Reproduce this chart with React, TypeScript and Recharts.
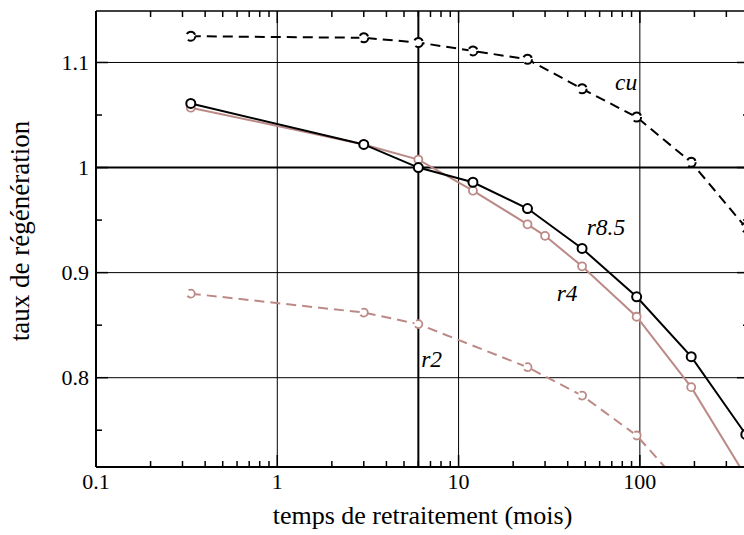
import {
  LineChart,
  Line,
  XAxis,
  YAxis,
  ReferenceLine,
  ReferenceDot,
} from "recharts";

// temps de retraitement (mois)
const months = [1 / 3, 3, 6, 12, 24, 30, 48, 96, 192, 384];
const cu = [1.125, 1.1235, 1.119, 1.111, 1.103, null, 1.075, 1.048, 1.005, 0.943];
const r85 = [1.061, 1.022, 1.0, 0.986, 0.961, null, 0.923, 0.877, 0.82, 0.746];
const r4 = [1.057, 1.022, 1.0076, 0.978, 0.946, 0.935, 0.906, 0.858, 0.791, 0.706];
const r2 = [0.88, 0.862, 0.851, null, 0.81, null, 0.783, 0.745, 0.687, null];

const xMajor = [0.1, 1, 10, 100];
const xTicks = [
  0.1, 0.2, 0.3, 0.4, 0.5, 0.6, 0.7, 0.8, 0.9,
  1, 2, 3, 4, 5, 6, 7, 8, 9,
  10, 20, 30, 40, 50, 60, 70, 80, 90,
  100, 200, 300, 400,
];
const yMajor = [0.8, 0.9, 1, 1.1];
const yTicks = [0.75, 0.8, 0.85, 0.9, 0.95, 1, 1.05, 1.1];

const seriesLabels = [
  { name: "cu", x: 84, y: 1.081 },
  { name: "r8.5", x: 65, y: 0.943 },
  { name: "r4", x: 39.7, y: 0.881 },
  { name: "r2", x: 7.1, y: 0.818 },
];

const data = months.map((m, i) => ({
  m,
  cu: cu[i],
  r85: r85[i],
  r4: r4[i],
  r2: r2[i],
}));

const FONT = "'Liberation Serif', 'Times New Roman', serif";
const PINK = "#BC8A86";

const isMajor = (list: number[], v: number) =>
  list.some((t) => Math.abs(t - v) < 1e-9);

const XTick = (props: any) => {
  const { x, y, payload, top } = props;
  const major = isMajor(xMajor, payload.value);
  const len = major ? 12 : 6;
  return (
    <g>
      <line x1={x} x2={x} y1={y} y2={top ? y + len : y - len} stroke="#000" strokeWidth={1.5} />
      {!top && major && (
        <text x={x} y={y + 14} textAnchor="middle" dominantBaseline="central" fontFamily={FONT} fontSize={22} fill="#000">
          {payload.value}
        </text>
      )}
    </g>
  );
};

const YTick = (props: any) => {
  const { x, y, payload, right } = props;
  const major = isMajor(yMajor, payload.value);
  const len = major ? 12 : 6;
  return (
    <g>
      <line x1={x} x2={right ? x - len : x + len} y1={y} y2={y} stroke="#000" strokeWidth={1.5} />
      {!right && major && (
        <text x={x - 7} y={y} textAnchor="end" dominantBaseline="central" fontFamily={FONT} fontSize={22} fill="#000">
          {payload.value}
        </text>
      )}
    </g>
  );
};

const SeriesLabel = (props: any) => {
  const { viewBox, value } = props;
  return (
    <text x={viewBox.x} y={viewBox.y} textAnchor="middle" dominantBaseline="central" fontFamily={FONT} fontStyle="italic" fontSize={23.5} fill="#000">
      {value}
    </text>
  );
};

export default function App() {
  return (
    <div
      style={{
        position: "fixed",
        left: 0,
        top: 0,
        width: 744,
        height: 535,
        overflow: "hidden",
        background: "#fff",
      }}
    >
      <LineChart
        width={770}
        height={535}
        data={data}
        margin={{ top: 10, right: 20, bottom: 0, left: 8 }}
      >
        <XAxis
          dataKey="m"
          type="number"
          scale="log"
          domain={[0.1, 400]}
          ticks={xTicks}
          interval={0}
          allowDataOverflow
          height={68}
          tickSize={0}
          tickMargin={0}
          tickLine={false}
          axisLine={{ stroke: "#000", strokeWidth: 2 }}
          tick={<XTick />}
          label={{
            content: (p: any) => (
              <text
                x={p.viewBox.x + p.viewBox.width / 2}
                y={515}
                textAnchor="middle"
                dominantBaseline="central"
                fontFamily={FONT}
                fontSize={26}
                fill="#000"
              >
                temps de retraitement (mois)
              </text>
            ),
          }}
        />
        <XAxis
          xAxisId="top"
          orientation="top"
          dataKey="m"
          type="number"
          scale="log"
          domain={[0.1, 400]}
          ticks={xTicks}
          interval={0}
          allowDataOverflow
          height={1}
          tickSize={0}
          tickMargin={0}
          tickLine={false}
          axisLine={{ stroke: "#000", strokeWidth: 1.5 }}
          tick={<XTick top />}
        />
        <YAxis
          type="number"
          domain={[0.715, 1.149]}
          ticks={yTicks}
          interval={0}
          allowDataOverflow
          width={88}
          tickSize={0}
          tickMargin={0}
          tickLine={false}
          axisLine={{ stroke: "#000", strokeWidth: 2 }}
          tick={<YTick />}
          label={{
            content: () => (
              <text
                x={20}
                y={231}
                transform="rotate(-90 20 231)"
                textAnchor="middle"
                dominantBaseline="central"
                fontFamily={FONT}
                fontSize={27}
                fill="#000"
              >
                taux de régénération
              </text>
            ),
          }}
        />
        <YAxis
          yAxisId="right"
          orientation="right"
          type="number"
          domain={[0.715, 1.149]}
          ticks={yTicks}
          interval={0}
          allowDataOverflow
          width={1}
          tickSize={0}
          tickMargin={0}
          tickLine={false}
          axisLine={{ stroke: "#000", strokeWidth: 1.5 }}
          tick={<YTick right />}
        />

        {[0.8, 0.9, 1.1].map((v) => (
          <ReferenceLine key={"h" + v} y={v} stroke="#000" strokeWidth={1} />
        ))}
        <ReferenceLine y={1} stroke="#000" strokeWidth={2} />
        {[1, 10, 100].map((v) => (
          <ReferenceLine key={"v" + v} x={v} stroke="#000" strokeWidth={1} />
        ))}
        <ReferenceLine x={6} stroke="#000" strokeWidth={2} />

        <Line
          dataKey="r2"
          stroke={PINK}
          strokeWidth={2}
          strokeDasharray="10 6"
          connectNulls
          dot={{ r: 4, fill: "#fff", stroke: PINK, strokeWidth: 1.8 }}
          isAnimationActive={false}
        />
        <Line
          dataKey="r4"
          stroke={PINK}
          strokeWidth={2}
          connectNulls
          dot={{ r: 4, fill: "#fff", stroke: PINK, strokeWidth: 1.8 }}
          isAnimationActive={false}
        />
        <Line
          dataKey="r85"
          stroke="#000"
          strokeWidth={2}
          connectNulls
          dot={{ r: 4.5, fill: "#fff", stroke: "#000", strokeWidth: 2 }}
          isAnimationActive={false}
        />
        <Line
          dataKey="cu"
          stroke="#000"
          strokeWidth={2}
          strokeDasharray="10 6"
          connectNulls
          dot={{ r: 4.5, fill: "#fff", stroke: "#000", strokeWidth: 2 }}
          isAnimationActive={false}
        />

        {seriesLabels.map((l) => (
          <ReferenceDot
            key={l.name}
            x={l.x}
            y={l.y}
            r={0}
            fill="none"
            stroke="none"
            label={<SeriesLabel value={l.name} />}
          />
        ))}
      </LineChart>
    </div>
  );
}
